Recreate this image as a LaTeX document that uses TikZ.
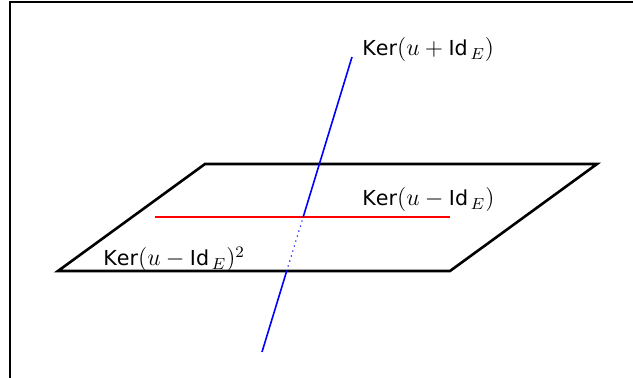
\documentclass[tikz,border=0pt]{standalone}
\usepackage{tikz}
\usepackage{fontspec}
\setsansfont[Scale=0.86]{DejaVu Sans}

\begin{document}
\begin{tikzpicture}[
    x=0.5pt, y=-0.5pt,
    plane/.style={line width=1.3pt, black},
    kerline/.style={line width=0.8pt, blue},
    kerhidden/.style={line width=0.8pt, blue, line cap=round,
                      dash pattern=on 0.01pt off 2.6pt},
    redline/.style={line width=0.7pt, red},
    label/.style={anchor=base west, inner sep=0pt,
                  font=\fontsize{12}{14}\selectfont},
]

\useasboundingbox (0,0) rectangle (633,378);
\clip (0,0) rectangle (633,378);
\draw [line width=0.6pt] (10,2) rectangle (660,400);

% the plane
\coordinate (p1) at (58,271);
\coordinate (p2) at (450,271);
\coordinate (p3) at (597,164);
\coordinate (p4) at (205,164);
\draw [plane] (p1) -- (p2) -- (p3) -- (p4) -- cycle;

% line inside the plane
\coordinate (r1) at (155,217);
\coordinate (r2) at (450,217);
\draw [redline] (r1) -- (r2);

% the line through the plane
\coordinate (b0) at (262,352);
\coordinate (bp) at (286.7,271);
\coordinate (br) at (303.2,217);
\coordinate (b1) at (352,57);
\draw [kerline] (b0) -- (bp);
\draw [kerhidden] (bp) -- (br);
\draw [kerline] (br) -- (b1);

\node [label] (kplus)  at (362,56)  {$\mathsf{Ker}(u+\mathsf{Id}_{\,E})$};
\node [label] (kminus) at (362,206) {$\mathsf{Ker}(u-\mathsf{Id}_{\,E})$};
\node [label] (ksq)    at (103,266) {$\mathsf{Ker}(u-\mathsf{Id}_{\,E})^2$};

\end{tikzpicture}
\end{document}
